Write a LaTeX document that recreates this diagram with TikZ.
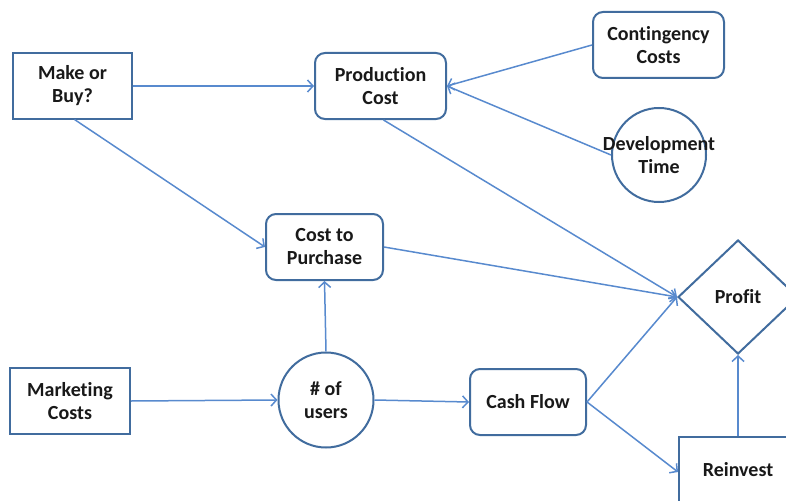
\documentclass[tikz,border=0pt]{standalone}
\usepackage{fontspec}
\setmainfont{Carlito}[RawFeature=-liga]
\usetikzlibrary{shapes.geometric,arrows.meta}
\definecolor{edgeblue}{RGB}{65,108,158}
\definecolor{linkblue}{RGB}{88,138,206}
\tikzset{
  labelfont/.style={font=\fontsize{20}{23}\selectfont\bfseries, text=black!90},
  base/.style={draw=edgeblue, line width=2pt, fill=white, inner sep=0pt,
    align=center, labelfont},
  sharpbox/.style={base, rectangle},
  roundbox/.style={base, rectangle, rounded corners=10pt},
  ring/.style={base, circle},
  link/.style={draw=linkblue, line width=1.5pt,
    -{Straight Barb[length=5.5pt,width=12pt,line width=1.5pt]}}
}
\begin{document}
\begin{tikzpicture}[x=1pt,y=-1pt]
  \useasboundingbox (0,0) rectangle (786,500);
  \clip (0,0) rectangle (786,500);

  % decision and cost nodes
  \node[sharpbox, minimum width=119pt, minimum height=65pt] (mob) at (72.5,86) {Make or\\Buy?};
  \node[roundbox, minimum width=131pt, minimum height=66pt] (pc) at (380.5,86) {Production\\Cost};
  \node[roundbox, minimum width=131pt, minimum height=66pt] (cc) at (658.5,45) {Contingency\\Costs};
  \node[ring, minimum size=94pt, label={[labelfont, align=center]center:Development\\Time}] (dt) at (659,155) {};
  \node[roundbox, minimum width=117pt, minimum height=66pt] (ctp) at (324.5,247) {Cost to\\Purchase};
  \node[base, diamond, minimum width=120pt, minimum height=114pt] (profit) at (738,297) {Profit};
  \node[sharpbox, minimum width=120pt, minimum height=66pt] (mc) at (70,401) {Marketing\\Costs};
  \node[ring, minimum size=95pt] (users) at (326,400) {\# of\\users};
  \node[roundbox, minimum width=116pt, minimum height=66pt] (cf) at (528,402) {Cash Flow};
  \node[sharpbox, minimum width=118pt, minimum height=66pt] (rein) at (738,470) {Reinvest};

  % influence links
  \draw[link] (mob.east) -- (pc.west);
  \draw[link] (cc.west) -- (pc.east);
  \draw[link] (dt.west) -- (pc.east);
  \draw[link] ([xshift=2pt]mob.south) -- (ctp.west);
  \draw[link] ([xshift=3pt]pc.south) -- (profit.west);
  \draw[link] (ctp.east) -- (profit.west);
  \draw[link] (cf.east) -- (profit.west);
  \draw[link] (cf.east) -- ([yshift=-2pt]rein.west);
  \draw[link] (rein.north) -- (profit.south);
  \draw[link] (mc.east) -- (users.west);
  \draw[link] (users.north) -- (ctp.south);
  \draw[link] (users.east) -- (cf.west);
\end{tikzpicture}
\end{document}
